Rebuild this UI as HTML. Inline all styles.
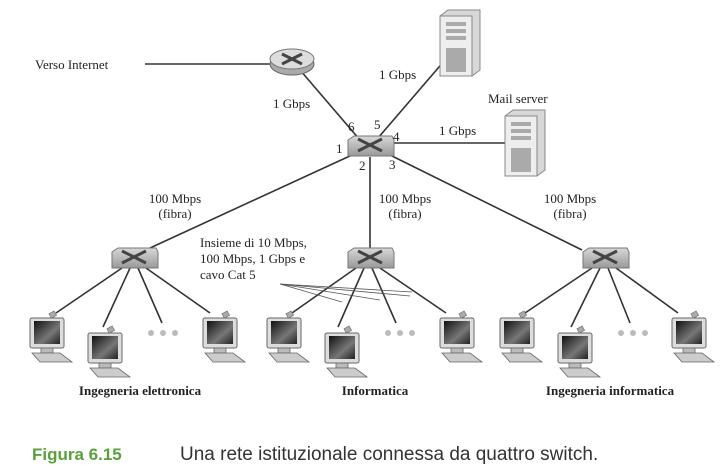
<!DOCTYPE html>
<html><head><style>
body{margin:0;background:#fff;}
svg{display:block;}
text{font-family:"Liberation Serif",serif;fill:#222;}
</style></head><body>
<svg width="724" height="469" viewBox="0 0 724 469" xmlns="http://www.w3.org/2000/svg">
<defs>
<linearGradient id="scr" x1="0" y1="0" x2="1" y2="1"><stop offset="0" stop-color="#111"/><stop offset="0.6" stop-color="#777"/><stop offset="1" stop-color="#222"/></linearGradient>
<linearGradient id="sw" x1="0" y1="0" x2="0" y2="1"><stop offset="0" stop-color="#d8d8d8"/><stop offset="1" stop-color="#999"/></linearGradient>
<g id="pc">
<rect x="0" y="0" width="34" height="30" rx="2" fill="#ddd" stroke="#666" stroke-width="1"/>
<rect x="4" y="3" width="26" height="23" fill="url(#scr)"/>
<rect x="11" y="30" width="12" height="5" fill="#bbb" stroke="#666" stroke-width="0.8"/>
<polygon points="2,35 30,35 42,44 10,44" fill="#ccc" stroke="#666" stroke-width="0.8"/>
<rect x="20" y="-6" width="6" height="5" fill="#aaa" stroke="#666" stroke-width="0.6" transform="rotate(-30 23 -3)"/>
</g>
<g id="switch">
<polygon points="-22,-10 -16,-14 22,-14 24,-10 24,6 -22,6" fill="url(#sw)" stroke="#777" stroke-width="1"/>
<path d="M-12,-11 L12,1 M12,-11 L-12,1" stroke="#444" stroke-width="3"/>
</g>
<g id="server">
<polygon points="0,6 8,0 40,0 40,60 32,66 0,66" fill="#d8d8d8" stroke="#888"/>
<rect x="0" y="6" width="32" height="60" fill="#eee" stroke="#888"/>
<rect x="6" y="12" width="20" height="4" fill="#aaa"/><rect x="6" y="19" width="20" height="4" fill="#aaa"/><rect x="6" y="26" width="20" height="4" fill="#aaa"/>
<rect x="6" y="38" width="20" height="24" fill="#aaa"/>
</g>
</defs>
<g stroke="#333" stroke-width="1.6" fill="none">
<line x1="145" y1="64" x2="272" y2="64"/>
<line x1="300" y1="70" x2="360" y2="140"/>
<line x1="378" y1="138" x2="445" y2="60"/>
<line x1="390" y1="143" x2="505" y2="143"/>
<line x1="352" y1="155" x2="150" y2="248"/>
<line x1="370" y1="157" x2="370" y2="248"/>
<line x1="390" y1="155" x2="582" y2="250"/>
<line x1="122" y1="268" x2="56" y2="313"/><line x1="130" y1="268" x2="103" y2="327"/><line x1="138" y1="268" x2="162" y2="323"/><line x1="146" y1="268" x2="210" y2="313"/>
<line x1="356" y1="268" x2="292" y2="313"/><line x1="364" y1="268" x2="338" y2="327"/><line x1="372" y1="268" x2="396" y2="323"/><line x1="380" y1="268" x2="446" y2="313"/>
<line x1="592" y1="268" x2="525" y2="313"/><line x1="600" y1="268" x2="571" y2="327"/><line x1="608" y1="268" x2="630" y2="323"/><line x1="616" y1="268" x2="678" y2="313"/>
</g>
<g stroke="#555" stroke-width="0.8"><line x1="280" y1="284" x2="412" y2="292"/><line x1="280" y1="284" x2="380" y2="300"/><line x1="280" y1="284" x2="342" y2="302"/><line x1="280" y1="284" x2="410" y2="296"/></g>
<ellipse cx="292" cy="64" rx="22" ry="11" fill="#aaa" stroke="#666"/>
<ellipse cx="292" cy="59" rx="22" ry="10" fill="#ddd" stroke="#777"/>
<path d="M282,54 L302,64 M302,54 L282,64" stroke="#444" stroke-width="3"/>
<use href="#switch" x="370" y="150"/>
<use href="#switch" x="134" y="262"/>
<use href="#switch" x="370" y="262"/>
<use href="#switch" x="605" y="262"/>
<use href="#server" x="440" y="10"/>
<use href="#server" x="505" y="110"/>
<use href="#pc" x="30" y="318"/><use href="#pc" x="88" y="333"/><use href="#pc" x="203" y="318"/>
<use href="#pc" x="267" y="318"/><use href="#pc" x="325" y="333"/><use href="#pc" x="440" y="318"/>
<use href="#pc" x="500" y="318"/><use href="#pc" x="558" y="333"/><use href="#pc" x="672" y="318"/>
<g fill="#bbb"><circle cx="151" cy="333" r="3"/><circle cx="163" cy="333" r="3"/><circle cx="175" cy="333" r="3"/>
<circle cx="388" cy="333" r="3"/><circle cx="400" cy="333" r="3"/><circle cx="412" cy="333" r="3"/>
<circle cx="621" cy="333" r="3"/><circle cx="633" cy="333" r="3"/><circle cx="645" cy="333" r="3"/></g>
<g font-size="13">
<text x="35" y="69">Verso Internet</text>
<text x="273" y="108">1 Gbps</text>
<text x="379" y="79">1 Gbps</text>
<text x="488" y="103">Mail server</text>
<text x="439" y="135">1 Gbps</text>
<text x="348" y="131">6</text><text x="374" y="129">5</text><text x="393" y="141">4</text>
<text x="336" y="153">1</text><text x="359" y="170">2</text><text x="389" y="169">3</text>
<text x="175" y="203" text-anchor="middle">100 Mbps</text><text x="175" y="218" text-anchor="middle">(fibra)</text>
<text x="405" y="203" text-anchor="middle">100 Mbps</text><text x="405" y="218" text-anchor="middle">(fibra)</text>
<text x="570" y="203" text-anchor="middle">100 Mbps</text><text x="570" y="218" text-anchor="middle">(fibra)</text>
<text x="200" y="247">Insieme di 10 Mbps,</text>
<text x="200" y="263">100 Mbps, 1 Gbps e</text>
<text x="200" y="279">cavo Cat 5</text>
<text x="140" y="395" text-anchor="middle" font-weight="bold">Ingegneria elettronica</text>
<text x="375" y="395" text-anchor="middle" font-weight="bold">Informatica</text>
<text x="610" y="395" text-anchor="middle" font-weight="bold">Ingegneria informatica</text>
</g>
<text x="32" y="460" font-size="17" font-weight="bold" style="font-family:'Liberation Sans',sans-serif;fill:#5aa13c">Figura 6.15</text>
<text x="180" y="460" font-size="19" style="font-family:'Liberation Sans',sans-serif;fill:#333">Una rete istituzionale connessa da quattro switch.</text>
</svg>
</body></html>
